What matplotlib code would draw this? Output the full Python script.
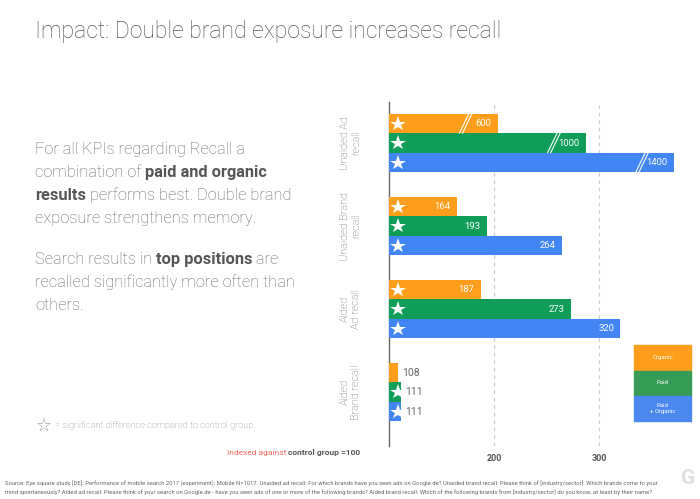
import matplotlib.pyplot as plt
from matplotlib.patches import Rectangle

# data
kategorie = ["Unaided Ad\nrecall", "Unaided Brand\nrecall", "Aided\nAd recall", "Aided\nBrand recall"]
organic = [600, 164, 187, 108]
paid = [1000, 193, 273, 111]
paid_organic = [1400, 264, 320, 111]
serie_nazvy = ["Organic", "Paid", "Paid\n+ Organic"]
vyznamne = [[True, True, True], [True, True, True], [True, True, True], [False, True, True]]
zlomena = [True, False, False, False]  # osa je prerusena (hodnoty se stlaci)
odkazy_x = [200, 300]

barvy = ["#FF9E1B", "#0F9D58", "#4285F4"]
barvy_legenda = ["#FF9E1B", "#369C55", "#4A88EE"]
seda = "#666666"

plt.rcParams['font.family'] = ['Roboto', 'DejaVu Sans']

fig = plt.figure(figsize=(7, 4.99), dpi=100)
W, H = 700, 499


def fx(px):
    return px / W


def fy(py):
    return 1 - py / H


ax = fig.add_axes([fx(389.5), fy(446), 292.5 / W, 344 / H])
ax.set_xlim(100, 100 + 292.5 / 1.05)
ax.set_ylim(3.65, -0.494)

vyska = 0.235
serie = [organic, paid, paid_organic]
for g in range(len(kategorie)):
    for s in range(3):
        hodnota = serie[s][g]
        delka = 77 + hodnota * 0.21 if zlomena[g] else hodnota
        y = g + (s - 1) * vyska
        ax.barh(y, delka - 100, left=100, height=vyska * 0.98, color=barvy[s], zorder=3)
        if vyznamne[g][s]:
            ax.plot(108, y, marker="*", color="white", markersize=11.5,
                    markeredgewidth=0, zorder=5)
        if zlomena[g]:
            xs = delka - 32
            for d in (0, 3):
                ax.plot([xs + d - 4.5, xs + d + 4.5], [y + vyska / 2, y - vyska / 2],
                        color="white", lw=0.8, zorder=4)
        if delka - 100 > 30:
            ax.text(delka - 6, y, str(hodnota), color="white", fontsize=6.8,
                    ha="right", va="center", zorder=6)
        else:
            ax.text(delka + 4, y, str(hodnota), color=seda, fontsize=7.5,
                    ha="left", va="center", zorder=6)

for xv in odkazy_x:
    ax.axvline(xv, color="#cccccc", lw=0.9, ls=(0, (3, 3)), zorder=1)

for sp in ["top", "right", "bottom"]:
    ax.spines[sp].set_visible(False)
ax.spines["left"].set_color(seda)
ax.spines["left"].set_linewidth(1)
ax.set_xticks(odkazy_x)
ax.set_xticklabels([str(v) for v in odkazy_x], fontsize=6.5, fontweight="bold", color="#555555")
ax.tick_params(axis="x", length=0, pad=6)
ax.set_yticks(range(len(kategorie)))
ax.set_yticklabels(kategorie, rotation=90, va="center", ha="center", fontsize=7.8,
                   color=seda, fontweight="light", multialignment="center")
ax.tick_params(axis="y", length=0, pad=28)

# legenda
ly = [345, 370.5, 395.5, 421]
for i in range(3):
    fig.patches.append(Rectangle((fx(634), fy(ly[i + 1])), 57 / W, (ly[i + 1] - ly[i]) / H,
                                 transform=fig.transFigure, color=barvy_legenda[i]))
    fig.text(fx(662.5), fy((ly[i] + ly[i + 1]) / 2), serie_nazvy[i], color="white",
             fontsize=4.3, ha="center", va="center", multialignment="center")

# nadpis
fig.text(fx(35), fy(38), "Impact: Double brand exposure increases recall", fontsize=16.6,
         fontweight="light", color="#555555", va="baseline")

renderer = fig.canvas.get_renderer()


def radek(x, y, casti, size=11.8):
    for text, tucne in casti:
        t = fig.text(fx(x), fy(y), text, fontsize=size, va="baseline",
                     fontweight="bold" if tucne else "light",
                     color="#555555" if tucne else seda)
        x = t.get_window_extent(renderer).x1


radky = [
    (154, [("For all KPIs regarding Recall a", False)]),
    (177, [("combination of ", False), ("paid and organic", True)]),
    (200, [("results", True), (" performs best. Double brand", False)]),
    (223, [("exposure strengthens memory.", False)]),
    (264, [("Search results in ", False), ("top positions", True), (" are", False)]),
    (287, [("recalled significantly more often than", False)]),
    (310, [("others.", False)]),
]
for y, casti in radky:
    radek(35, y, casti)

# poznamka s hvezdou
fig.text(fx(44), fy(426), "\u2606", fontsize=13, color="#9e9e9e", ha="center", va="center",
         family=["DejaVu Sans"])
fig.text(fx(55), fy(426), "= significant difference compared to control group", fontsize=6.7,
         color="#888888", va="center", fontweight="light")

t = fig.text(fx(227), fy(453), "Indexed against ", fontsize=6, color="#F4685E", va="center")
fig.text(t.get_window_extent(renderer).x1 / W, fy(453), "control group =100", fontsize=6,
         color="#555555", fontweight="bold", va="center")

zdroj = ("Source: Eye square study [DE]: Performance of mobile search 2017 (experiment): Mobile N=1017. "
         "Unaided ad recall: For which brands have you seen ads on Google.de? Unaided brand recall: Please "
         "think of [industry/sector]. Which brands come to your\nmind spontaneously? Aided ad recall: Please "
         "think of your search on Google.de - have you seen ads of one or more of the following brands? "
         "Aided brand recall: Which of the following brands from [industry/sector] do you know, at least by their name?")
fig.text(fx(5), fy(481), zdroj, fontsize=4.2, color=seda, va="top", linespacing=1.4)

fig.text(fx(688), fy(478), "G", fontsize=15, fontweight="bold", color="#e0e0e0",
         ha="center", va="center")

fig.savefig("out.png", dpi=100)
